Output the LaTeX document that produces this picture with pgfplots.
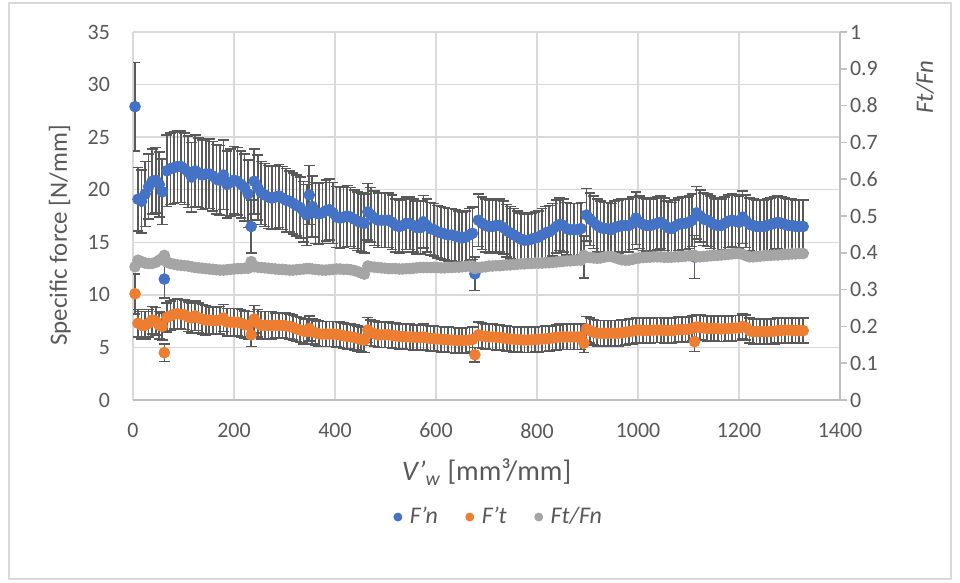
\documentclass[border=0pt]{standalone}
\usepackage{fontspec}
\setmainfont{Carlito}
\usepackage{pgfplots}
\usepackage{pgfplotstable}
\pgfplotsset{compat=1.18}
\definecolor{cBlue}{HTML}{4472C4}
\definecolor{cOrange}{HTML}{ED7D31}
\definecolor{cGray}{HTML}{A5A5A5}
\definecolor{cErr}{HTML}{595959}
\definecolor{cGrid}{HTML}{D9D9D9}
\definecolor{cAxis}{HTML}{BFBFBF}
\definecolor{cText}{HTML}{595959}

\pgfplotstableread{
x Fn eFn Ft eFt R
4 27.9 4.2 10.1 1.9 0.362
10 19.1 3.0 7.3 1.3 0.380
17 18.9 3.0 7.1 1.3 0.376
24 19.6 3.1 7.1 1.3 0.372
31 20.3 3.1 7.3 1.3 0.371
38 20.8 3.1 7.6 1.3 0.371
45 20.9 3.1 7.5 1.3 0.374
52 20.5 3.1 7.1 1.3 0.380
58 19.8 3.1 7.0 1.3 0.385
62 11.5 1.8 4.5 0.85 0.393
67 21.8 3.4 7.85 1.4 0.375
74 22.0 3.4 8.0 1.4 0.371
81 22.1 3.4 8.15 1.4 0.369
88 22.2 3.4 8.2 1.4 0.367
95 22.2 3.4 8.15 1.4 0.366
102 22.0 3.4 8.1 1.4 0.365
109 21.7 3.4 7.9 1.4 0.364
116 21.2 3.3 7.8 1.4 0.362
123 21.8 3.4 8.0 1.4 0.360
130 21.6 3.3 7.8 1.4 0.359
137 21.4 3.3 7.7 1.4 0.358
144 21.5 3.3 7.6 1.4 0.357
151 21.5 3.3 7.6 1.3 0.356
158 21.3 3.3 7.55 1.3 0.355
165 21.0 3.3 7.55 1.3 0.354
172 20.9 3.3 7.6 1.3 0.353
179 21.4 3.3 7.8 1.3 0.353
186 20.5 3.2 7.4 1.3 0.354
193 20.7 3.2 7.4 1.3 0.355
200 20.9 3.2 7.4 1.3 0.356
207 20.8 3.2 7.4 1.3 0.357
214 20.5 3.2 7.3 1.3 0.357
221 20.2 3.2 7.15 1.3 0.358
228 19.6 3.2 7.1 1.3 0.358
234 16.5 2.5 6.2 1.1 0.376
240 20.8 3.1 7.7 1.3 0.362
247 20.2 3.1 7.3 1.3 0.361
254 19.7 3.0 7.1 1.3 0.360
261 19.5 3.0 7.1 1.3 0.359
268 19.3 3.0 7.1 1.3 0.358
275 19.2 3.0 7.1 1.3 0.357
282 19.3 3.0 7.1 1.2 0.356
289 19.4 3.0 7.1 1.2 0.355
296 19.2 3.0 7.1 1.2 0.355
303 19.0 3.0 7.05 1.2 0.354
310 18.9 2.9 7.0 1.2 0.353
317 18.7 2.9 6.9 1.2 0.353
324 18.5 2.9 6.75 1.2 0.354
331 18.3 2.9 6.65 1.2 0.355
338 17.9 2.9 6.55 1.2 0.356
344 17.6 2.9 6.5 1.2 0.357
349 19.5 2.8 6.8 1.2 0.357
355 18.4 2.9 6.5 1.2 0.356
361 17.8 2.9 6.4 1.2 0.355
368 17.7 2.9 6.3 1.2 0.354
375 17.8 2.9 6.27 1.2 0.353
382 18.0 2.9 6.27 1.2 0.353
389 18.1 2.9 6.27 1.2 0.354
396 17.8 2.9 6.27 1.2 0.355
403 17.4 2.9 6.25 1.2 0.356
410 17.3 2.9 6.2 1.2 0.356
417 17.4 2.9 6.1 1.2 0.355
424 17.5 2.9 6.05 1.2 0.355
431 17.4 2.8 6.0 1.2 0.354
438 17.2 2.8 5.95 1.2 0.352
445 17.0 2.8 5.85 1.2 0.349
452 16.9 2.8 5.75 1.2 0.345
458 16.8 2.8 5.7 1.2 0.342
465 17.9 2.7 6.65 1.2 0.364
471 17.6 2.6 6.4 1.2 0.362
478 17.3 2.6 6.3 1.2 0.361
485 17.1 2.6 6.2 1.2 0.360
492 17.1 2.6 6.2 1.2 0.359
499 17.1 2.6 6.2 1.2 0.358
506 17.1 2.6 6.2 1.2 0.357
513 16.9 2.6 6.15 1.2 0.357
520 16.6 2.5 6.1 1.2 0.357
527 16.5 2.5 6.05 1.2 0.356
534 16.6 2.5 6.05 1.2 0.356
541 16.8 2.5 6.0 1.2 0.357
548 16.8 2.5 6.0 1.2 0.357
555 16.6 2.5 5.98 1.2 0.358
562 16.4 2.5 5.95 1.2 0.359
569 16.4 2.5 5.95 1.2 0.360
575 16.95 2.5 6.0 1.2 0.360
582 16.6 2.5 5.9 1.2 0.360
589 16.3 2.5 5.85 1.2 0.360
596 16.2 2.5 5.85 1.2 0.360
603 16.0 2.5 5.8 1.2 0.360
610 15.9 2.5 5.78 1.2 0.359
617 15.8 2.5 5.75 1.2 0.359
624 15.7 2.5 5.72 1.2 0.360
631 15.7 2.5 5.7 1.2 0.360
638 15.6 2.5 5.68 1.2 0.361
645 15.5 2.5 5.65 1.2 0.361
652 15.4 2.5 5.65 1.2 0.362
659 15.5 2.5 5.68 1.2 0.363
666 15.7 2.5 5.7 1.2 0.364
672 15.85 2.5 5.75 1.2 0.364
677 12.0 1.6 4.3 0.7 0.357
684 17.1 2.5 6.2 1.2 0.360
691 16.8 2.5 6.1 1.2 0.361
698 16.6 2.5 6.05 1.2 0.362
705 16.5 2.5 6.0 1.2 0.364
712 16.5 2.5 6.0 1.2 0.364
719 16.6 2.5 5.98 1.2 0.365
726 16.6 2.5 5.95 1.2 0.365
733 16.4 2.5 5.9 1.2 0.366
740 16.1 2.5 5.85 1.2 0.367
747 15.9 2.5 5.8 1.2 0.367
754 15.7 2.5 5.78 1.2 0.368
761 15.5 2.5 5.75 1.2 0.369
768 15.3 2.5 5.72 1.2 0.370
775 15.2 2.5 5.7 1.2 0.370
782 15.2 2.5 5.7 1.2 0.371
789 15.3 2.5 5.72 1.2 0.371
796 15.4 2.5 5.75 1.2 0.372
803 15.5 2.5 5.78 1.2 0.372
810 15.7 2.5 5.8 1.2 0.372
817 15.9 2.5 5.82 1.2 0.373
824 16.0 2.5 5.85 1.2 0.373
831 16.2 2.5 5.9 1.2 0.374
838 16.5 2.5 5.95 1.2 0.375
845 16.7 2.5 6.0 1.2 0.376
852 16.6 2.5 6.0 1.2 0.377
859 16.3 2.5 6.0 1.2 0.378
866 16.2 2.5 6.0 1.2 0.378
873 16.2 2.5 6.0 1.2 0.379
880 16.2 2.5 6.0 1.2 0.380
887 16.3 2.5 6.0 1.2 0.380
893 13.6 2.0 5.4 0.9 0.393
898 17.6 2.5 6.75 1.2 0.388
905 17.2 2.5 6.6 1.2 0.387
912 16.9 2.5 6.45 1.2 0.386
919 16.6 2.5 6.35 1.2 0.385
926 16.4 2.5 6.35 1.2 0.386
933 16.3 2.5 6.35 1.2 0.388
940 16.3 2.5 6.35 1.2 0.390
947 16.2 2.5 6.35 1.2 0.390
954 16.4 2.5 6.35 1.2 0.387
961 16.5 2.5 6.35 1.2 0.384
968 16.6 2.5 6.4 1.2 0.381
975 16.6 2.5 6.45 1.2 0.380
982 16.6 2.5 6.5 1.2 0.380
989 16.8 2.5 6.55 1.2 0.382
996 17.3 2.5 6.65 1.2 0.385
1003 16.9 2.5 6.65 1.2 0.386
1010 16.7 2.5 6.6 1.2 0.387
1017 16.6 2.5 6.6 1.2 0.388
1024 16.6 2.5 6.62 1.2 0.388
1031 16.7 2.5 6.65 1.2 0.389
1038 16.8 2.5 6.65 1.2 0.389
1045 16.9 2.5 6.65 1.2 0.389
1052 16.7 2.5 6.62 1.2 0.388
1059 16.4 2.5 6.6 1.2 0.388
1066 16.3 2.5 6.6 1.2 0.388
1073 16.5 2.5 6.65 1.2 0.389
1080 16.7 2.5 6.7 1.2 0.389
1087 16.8 2.5 6.7 1.2 0.390
1094 16.8 2.5 6.7 1.2 0.391
1101 16.9 2.5 6.75 1.2 0.392
1107 17.1 2.5 6.8 1.2 0.393
1112 13.6 2.05 5.55 0.95 0.393
1116 17.8 2.5 6.95 1.2 0.389
1123 17.5 2.5 6.9 1.2 0.389
1130 17.2 2.5 6.85 1.2 0.390
1137 17.1 2.5 6.8 1.2 0.391
1144 16.9 2.5 6.8 1.2 0.392
1151 16.7 2.5 6.8 1.2 0.393
1158 16.6 2.5 6.78 1.2 0.393
1165 16.6 2.5 6.75 1.2 0.394
1172 16.8 2.5 6.78 1.2 0.395
1179 17.0 2.5 6.8 1.2 0.396
1186 17.1 2.5 6.82 1.2 0.397
1193 17.0 2.5 6.85 1.2 0.398
1200 16.9 2.5 6.85 1.2 0.398
1207 17.4 2.5 7.0 1.2 0.396
1214 17.0 2.5 6.9 1.2 0.392
1221 16.7 2.5 6.6 1.2 0.389
1228 16.6 2.5 6.5 1.2 0.389
1235 16.5 2.5 6.5 1.2 0.390
1242 16.5 2.5 6.5 1.2 0.391
1249 16.5 2.5 6.5 1.2 0.392
1256 16.6 2.5 6.5 1.2 0.393
1263 16.7 2.5 6.52 1.2 0.393
1270 16.8 2.5 6.55 1.2 0.394
1277 16.9 2.5 6.6 1.2 0.394
1284 16.8 2.5 6.62 1.2 0.395
1291 16.7 2.5 6.65 1.2 0.396
1298 16.6 2.5 6.65 1.2 0.396
1305 16.6 2.5 6.62 1.2 0.397
1312 16.5 2.5 6.6 1.2 0.397
1319 16.5 2.5 6.6 1.2 0.398
1327 16.5 2.5 6.6 1.2 0.398
}\datatab

\pgfplotsset{
  errstyle/.style={
    error bars/.cd, y dir=both, y explicit,
    error bar style={cErr, line width=0.8bp},
    error mark options={rotate=90, mark size=2.7bp, cErr, line width=0.8bp}
  }
}

\begin{document}
\begin{tikzpicture}
\useasboundingbox (0,0) rectangle (480bp,291.5bp);
\fill[white] (0,0) rectangle (480bp,291.5bp);
\draw[cGrid, line width=0.75bp] (4.5bp,2bp) rectangle (475.5bp,290bp);

\begin{axis}[
  at={(66.5bp,91.5bp)}, anchor=south west,
  scale only axis, width=353.5bp, height=184bp,
  xmin=0, xmax=1400, ymin=0, ymax=35,
  xtick={0,200,400,600,800,1000,1200,1400},
  ytick={0,5,10,15,20,25,30,35},
  grid=major, grid style={cGrid, line width=0.75bp},
  axis x line*=bottom, axis y line*=left,
  x axis line style={cAxis, line width=0.75bp, -},
  y axis line style={draw=none},
  major tick length=0pt,
  tick label style={font=\fontsize{11}{13}\selectfont, text=cText},
  /pgf/number format/assume math mode=true,
  /pgf/number format/1000 sep={},
  yticklabel style={xshift=-8bp},
  xticklabel style={yshift=-8bp},
  xlabel={\textit{V'}\textsubscript{\textit{w}} [mm³/mm]},
  xlabel style={at={(axis description cs:0.5,0)}, anchor=center, yshift=-36bp,
    font=\fontsize{14.2}{17}\selectfont, text=cText},
  ylabel={Specific force [N/mm]},
  ylabel style={at={(axis description cs:-0.1033,0.447)}, anchor=center,
    font=\fontsize{12.5}{15}\selectfont, text=cText},
  legend image post style={mark size=2bp},
  legend style={at={(0.519,-0.318)}, anchor=center, legend columns=-1,
    draw=none, fill=none, font=\fontsize{12}{14}\selectfont, text=cText,
    /tikz/every even column/.append style={column sep=12bp},
    /tikz/every odd column/.append style={column sep=2bp}},
]
\addplot[only marks, mark=*, mark size=2.7bp, color=cBlue, errstyle]
  table[x=x, y=Fn, y error=eFn]{\datatab};
\addlegendentry{\textit{F'n}}
\addplot[only marks, mark=*, mark size=2.7bp, color=cOrange, errstyle]
  table[x=x, y=Ft, y error=eFt]{\datatab};
\addlegendentry{\textit{F't}}
\addlegendimage{only marks, mark=*, mark size=2.7bp, color=cGray}
\addlegendentry{\textit{Ft/Fn}}
\end{axis}

\begin{axis}[
  at={(66.5bp,91.5bp)}, anchor=south west,
  scale only axis, width=353.5bp, height=184bp,
  xmin=0, xmax=1400, ymin=0, ymax=1,
  axis x line=none, axis y line*=right,
  y axis line style={cAxis, line width=0.75bp, -},
  ytick={0,0.1,0.2,0.3,0.4,0.5,0.6,0.7,0.8,0.9,1},
  tick align=outside, major tick length=3.5bp,
  ytick style={cAxis, line width=0.75bp},
  tick label style={font=\fontsize{11}{13}\selectfont, text=cText},
  yticklabel style={xshift=-2bp},
  /pgf/number format/assume math mode=true,
  ylabel={\textit{Ft/Fn}},
  ylabel style={at={(axis description cs:1.1202,0.8505)}, anchor=center,
    font=\fontsize{12.5}{15}\selectfont, text=cText},
]
\addplot[only marks, mark=*, mark size=2.7bp, color=cGray]
  table[x=x, y=R]{\datatab};
\end{axis}
\end{tikzpicture}
\end{document}
